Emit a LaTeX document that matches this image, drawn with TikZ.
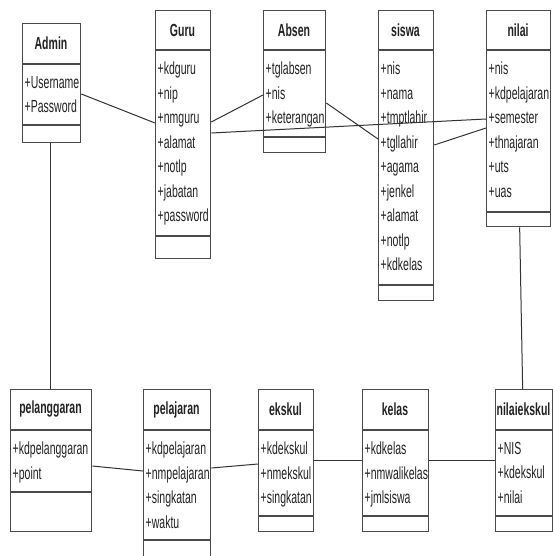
\documentclass[tikz,border=0pt]{standalone}
\usepackage{fontspec}
\setmainfont[FakeStretch=0.6]{Liberation Sans}
\usetikzlibrary{calc}
\definecolor{boxc}{HTML}{4A4A4A}
\definecolor{linec}{HTML}{333333}
\definecolor{txtc}{HTML}{222222}
\newcommand\umlclass[9]{%
  \node[cls, minimum width=#4pt, minimum height=#5pt] (#1) at (#2,#3) {};
  \draw[sep] (#1.west |- 0,#6) -- (#1.east |- 0,#6);
  \draw[sep] (#1.west |- 0,#7) -- (#1.east |- 0,#7);
  \node[ttl] (#1-title) at ($(#2,#3)!0.5!(#2+#4,#6)$) {#8};
  \node[attr] (#1-attrs) at (#2+2.5,#6+12) {#9};
}
\begin{document}
\begin{tikzpicture}[x=1pt,y=-1pt,
  cls/.style={draw=boxc, line width=1.3pt, fill=white, anchor=north west, inner sep=0pt},
  ttl/.style={font=\fontsize{17.5}{19}\selectfont\bfseries, text=txtc, inner sep=0pt},
  attr/.style={font=\fontsize{17.5}{24.5}\selectfont, text=txtc, align=left, anchor=north west, inner sep=0pt},
  sep/.style={draw=boxc, line width=1.3pt},
  conn/.style={draw=linec, line width=1pt}]
\useasboundingbox (0,0) rectangle (553,556);
\clip (0,0) rectangle (553,556);
\fill[white] (0,0) rectangle (553,556);
% top row
\umlclass{admin}{22}{23}{58}{119}{64}{125}{Admin}{+Username\\+Password}
\umlclass{guru}{155}{10}{55}{248}{50}{236}{Guru}{+kdguru\\+nip\\+nmguru\\+alamat\\+notlp\\+jabatan\\+password}
\umlclass{absen}{263}{10}{62}{142}{50}{137}{Absen}{+tglabsen\\+nis\\+keterangan}
\umlclass{siswa}{378}{10}{55}{290}{50}{285}{siswa}{+nis\\+nama\\+tmptlahir\\+tgllahir\\+agama\\+jenkel\\+alamat\\+notlp\\+kdkelas}
\umlclass{nilai}{486}{10}{64}{216}{50}{212}{nilai}{+nis\\+kdpelajaran\\+semester\\+thnajaran\\+uts\\+uas}
% bottom row
\umlclass{pelang}{10}{389}{81}{142}{430}{492}{pelanggaran}{+kdpelanggaran\\+point}
\umlclass{pelajaran}{143}{389}{67}{190}{430}{540}{pelajaran}{+kdpelajaran\\+nmpelajaran\\+singkatan\\+waktu}
\umlclass{ekskul}{258}{389}{55}{142}{430}{516}{ekskul}{+kdekskul\\+nmekskul\\+singkatan}
\umlclass{kelas}{362}{389}{66}{142}{430}{516}{kelas}{+kdkelas\\+nmwalikelas\\+jmlsiswa}
\umlclass{nilaiekskul}{495}{389}{57}{142}{430}{516}{nilaiekskul}{+NIS\\+kdekskul\\+nilai}
% connectors
\draw[conn] ([yshift=-71pt]admin.north east) -- ([yshift=-113pt]guru.north west);
\draw[conn] ([yshift=-112pt]guru.north east) -- ([yshift=-85pt]absen.north west);
\draw[conn] ([yshift=-123pt]guru.north east) -- ([yshift=-109pt]nilai.north west);
\draw[conn] ([yshift=-93pt]absen.north east) -- ([yshift=-129pt]siswa.north west);
\draw[conn] ([yshift=-135pt]siswa.north east) -- ([yshift=-118pt]nilai.north west);
\draw[conn] ([xshift=-1.5pt]admin.south) -- ([xshift=-1pt]pelang.north);
\draw[conn] ([xshift=1pt]nilai.south) -- ([xshift=-1.5pt]nilaiekskul.north);
\draw[conn] ([yshift=-77pt]pelang.north east) -- ([yshift=-82pt]pelajaran.north west);
\draw[conn] ([yshift=-79pt]pelajaran.north east) -- ([yshift=-75pt]ekskul.north west);
\draw[conn] ([yshift=-71pt]ekskul.north east) -- ([yshift=-71pt]kelas.north west);
\draw[conn] ([yshift=-71pt]kelas.north east) -- ([yshift=-71pt]nilaiekskul.north west);
\end{tikzpicture}
\end{document}
